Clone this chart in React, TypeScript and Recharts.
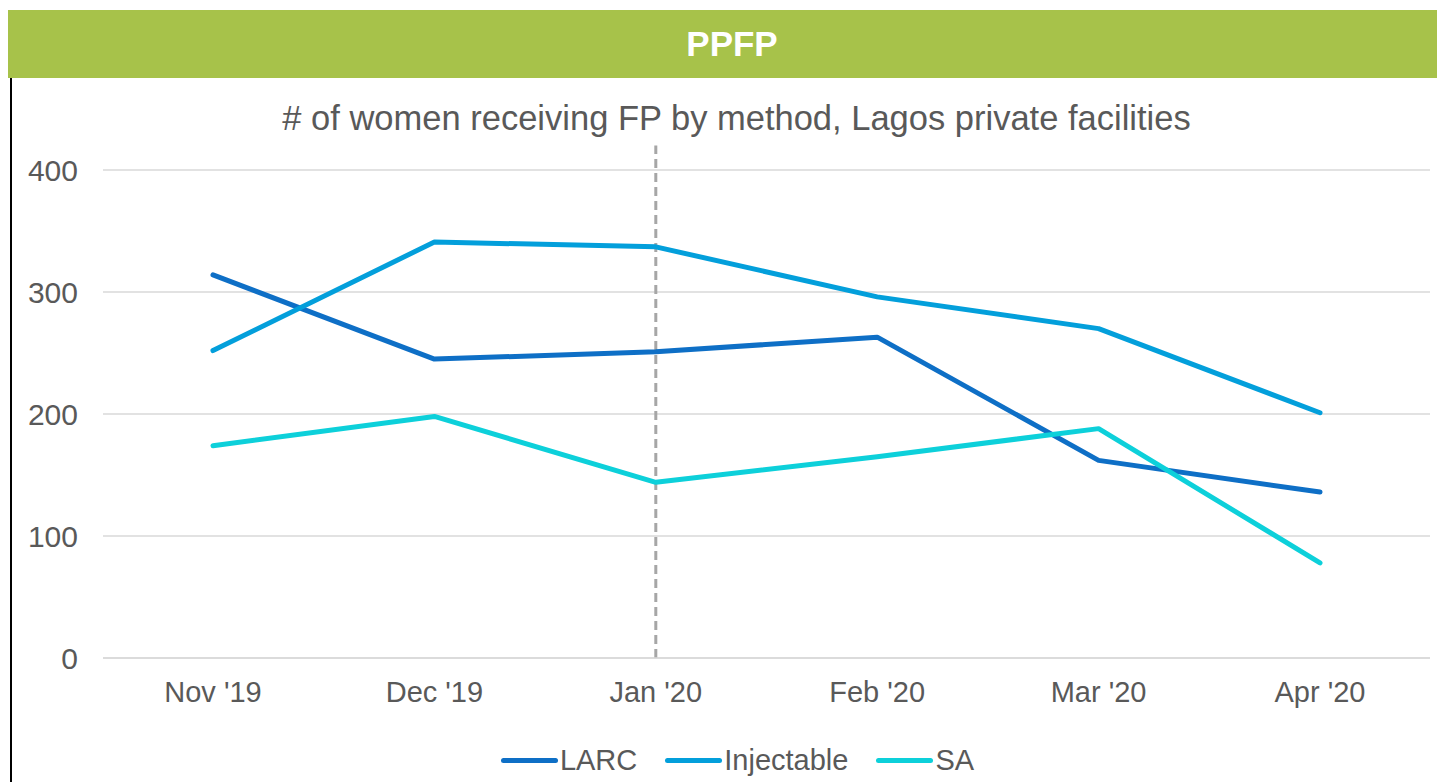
import React from "react";
import {
  LineChart,
  Line,
  XAxis,
  YAxis,
  CartesianGrid,
  ReferenceLine,
} from "recharts";

const months = ["Nov '19", "Dec '19", "Jan '20", "Feb '20", "Mar '20", "Apr '20"];
const larc = [314, 245, 251, 263, 162, 136];
const injectable = [252, 341, 337, 296, 270, 201];
const sa = [174, 198, 144, 165, 188, 78];
const yTicks = [0, 100, 200, 300, 400];

const SERIES = [
  { key: "larc", name: "LARC", color: "#0E6FC6" },
  { key: "injectable", name: "Injectable", color: "#039FDB" },
  { key: "sa", name: "SA", color: "#0DD0DA" },
];

const data = months.map((m, i) => ({
  month: m,
  larc: larc[i],
  injectable: injectable[i],
  sa: sa[i],
}));

const FONT = "'Liberation Sans', Arial, sans-serif";

function LegendRow() {
  return (
    <div
      style={{
        display: "flex",
        justifyContent: "center",
        alignItems: "center",
        fontFamily: FONT,
        fontSize: 29,
        color: "#595959",
        paddingLeft: 22,
      }}
    >
      {SERIES.map((s, i) => (
        <div
          key={s.key}
          style={{ display: "flex", alignItems: "center", marginRight: i < SERIES.length - 1 ? 28 : 0 }}
        >
          <span
            style={{
              display: "inline-block",
              width: 57,
              height: 5,
              borderRadius: 3,
              background: s.color,
              marginRight: 2,
            }}
          />
          <span>{s.name}</span>
        </div>
      ))}
    </div>
  );
}

export default function App() {
  return (
    <div style={{ position: "relative", width: 1437, height: 774, marginTop: 2, fontFamily: FONT }}>
      <div
        style={{
          position: "absolute",
          left: -1,
          top: 0,
          width: 1438,
          height: 68,
          boxSizing: "border-box",
          paddingLeft: 12,
          background: "#A7C24A",
          color: "#fff",
          fontWeight: "bold",
          fontSize: 35,
          display: "flex",
          alignItems: "center",
          justifyContent: "center",
        }}
      >
        PPFP
      </div>
      <div
        style={{
          position: "absolute",
          left: 2,
          top: 68,
          width: 2,
          height: 706,
          background: "#000",
        }}
      />
      <div
        style={{
          position: "absolute",
          top: 89,
          left: 10,
          width: 1437,
          textAlign: "center",
          fontSize: 34.5,
          color: "#595959",
        }}
      >
        # of women receiving FP by method, Lagos private facilities
      </div>
      <div style={{ position: "absolute", top: 68, left: 0 }}>
        <LineChart
          width={1437}
          height={704}
          data={data}
          margin={{ top: 92, right: 15, left: 0, bottom: 94 }}
        >
          <CartesianGrid horizontal vertical={false} stroke="#D9D9D9" strokeWidth={1.5} />
          <XAxis
            dataKey="month"
            height={30}
            padding={{ left: 110, right: 110 }}
            axisLine={{ stroke: "#D9D9D9", strokeWidth: 1.5 }}
            tickLine={false}
            tickSize={0}
            tickMargin={23}
            tick={{ fill: "#595959", fontSize: 29, fontFamily: FONT }}
          />
          <YAxis
            width={95}
            domain={[0, 400]}
            ticks={yTicks}
            axisLine={false}
            tickLine={false}
            tickSize={0}
            tickMargin={25}
            tick={{ fill: "#595959", fontSize: 30, fontFamily: FONT }}
          />
          <ReferenceLine
            segment={[
              { x: "Jan '20", y: 0 },
              { x: "Jan '20", y: 420 },
            ]}
            ifOverflow="visible"
            stroke="#A6A6A6"
            strokeWidth={3}
            strokeDasharray="9 5"
          />
          {SERIES.map((s) => (
            <Line
              key={s.key}
              type="linear"
              dataKey={s.key}
              name={s.name}
              stroke={s.color}
              strokeWidth={5}
              strokeLinecap="round"
              strokeLinejoin="round"
              dot={false}
              activeDot={false}
              isAnimationActive={false}
            />
          ))}
        </LineChart>
      </div>
      <div style={{ position: "absolute", left: 0, width: 1437, top: 734 }}>
        <LegendRow />
      </div>
    </div>
  );
}
